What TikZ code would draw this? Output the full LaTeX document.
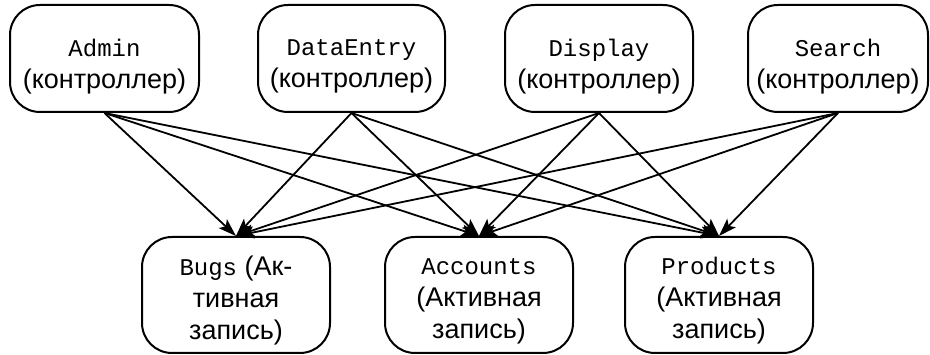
\documentclass[tikz,border=0pt]{standalone}
\usepackage{fontspec}
\setmainfont{Liberation Sans}
\setmonofont{Liberation Mono}
\usetikzlibrary{arrows.meta}

\tikzset{
  box/.style={draw, line width=2pt, rounded corners=30pt, inner sep=0pt},
  boxtext/.style={align=center, inner sep=0pt, font=\fontsize{27}{32}\selectfont},
  % the caption sits a little below the middle of its box
  ctrl/.style={box, minimum height=107pt,
    label={[boxtext, yshift=-8pt]center:#1}},
  model/.style={box, minimum width=188pt, minimum height=116pt,
    label={[boxtext, yshift=-6pt]center:#1}},
  link/.style={line width=1.8pt, -{Stealth[length=18pt,width=12pt,inset=4pt]}}
}
\newcommand{\cls}[1]{{\fontsize{24}{32}\selectfont\ttfamily #1}}

\begin{document}
\begin{tikzpicture}[x=1pt, y=-1pt]
  \useasboundingbox (0,0) rectangle (930,355);

  % controllers
  \node[ctrl={\cls{Admin}\\(контроллер)}, minimum width=189pt]
    (admin) at (104.5,58.5) {};
  \node[ctrl={\cls{DataEntry}\\(контроллер)}, minimum width=187pt]
    (entry) at (351.5,58.5) {};
  \node[ctrl={\cls{Display}\\(контроллер)}, minimum width=188pt]
    (display) at (599,58.5) {};
  \node[ctrl={\cls{Search}\\(контроллер)}, minimum width=180pt]
    (search) at (838,58.5) {};

  % active-record models
  \node[model={\cls{Bugs} (Ак-\\тивная\\запись)}]       (bugs)     at (236,295) {};
  \node[model={\cls{Accounts}\\(Активная\\запись)}]     (accounts) at (479,295) {};
  \node[model={\cls{Products}\\(Активная\\запись)}]     (products) at (719,295) {};

  % every controller uses every model
  \foreach \c in {admin, entry, display, search}
    \foreach \m in {bugs, accounts, products}
      \draw[link] (\c.south) -- (\m.north);
\end{tikzpicture}
\end{document}
